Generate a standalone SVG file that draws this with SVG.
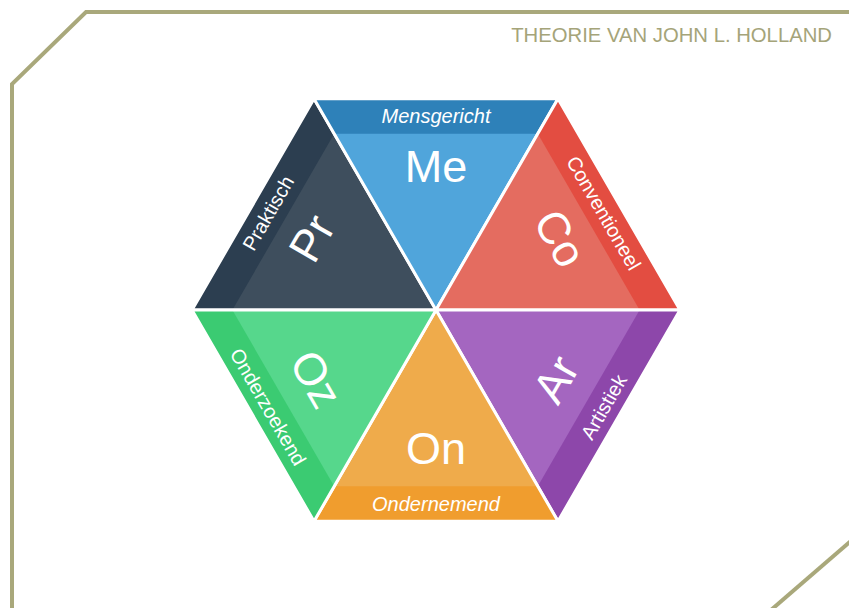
<svg xmlns="http://www.w3.org/2000/svg" width="849" height="608" viewBox="0 0 849 608">
<style>
.frame{fill:none;stroke:#a9a87b;stroke-width:4}
.title{font-family:"Liberation Sans",Arial,sans-serif;font-size:20.3px;fill:#a5a479}
.gap{fill:none;stroke:#ffffff;stroke-width:3;stroke-linejoin:miter}
.big{font-family:"Liberation Sans",Arial,sans-serif;font-size:45px;fill:#ffffff;text-anchor:middle}
.lab{font-family:"Liberation Sans",Arial,sans-serif;font-size:20px;fill:#ffffff;text-anchor:middle}
.it{font-style:italic}
</style>
<rect width="849" height="608" fill="#ffffff"/>
<g id="frame">
<polyline class="frame" points="12,610 12,84 86,12 851,12"/>
<polyline class="frame" points="771,610 851,541"/>
</g>
<text class="title" x="832" y="42" text-anchor="end">THEORIE VAN JOHN L. HOLLAND</text>

<g id="node-pr">
<polygon points="192,310 314,98.7 436,310" fill="#2c3e50"/>
<polygon points="232.4,310 334.2,133.7 436,310" fill="#3e4e5d"/>
<polygon class="gap" points="192,310 314,98.7 436,310"/>
<text class="lab" transform="translate(274.2,216.6) rotate(-60)">Praktisch</text>
<text class="big" transform="translate(314,239.6) rotate(-60)" y="13">Pr</text>
</g>
<g id="node-me">
<polygon points="314,98.7 558,98.7 436,310" fill="#2e81b9"/>
<polygon points="334.2,133.7 537.8,133.7 436,310" fill="#50a5db"/>
<polygon class="gap" points="314,98.7 558,98.7 436,310"/>
<text class="lab it" x="436" y="123.2">Mensgericht</text>
<text class="big" x="436" y="182">Me</text>
</g>
<g id="node-co">
<polygon points="558,98.7 680,310 436,310" fill="#e34d41"/>
<polygon points="537.8,133.7 639.6,310 436,310" fill="#e46c60"/>
<polygon class="gap" points="558,98.7 680,310 436,310"/>
<text class="lab" transform="translate(597.8,216.6) rotate(60)">Conventioneel</text>
<text class="big" transform="translate(558,239.6) rotate(60)" y="13">Co</text>
</g>
<g id="node-ar">
<polygon points="680,310 558,521.3 436,310" fill="#8d47aa"/>
<polygon points="639.6,310 537.8,486.3 436,310" fill="#a466c0"/>
<polygon class="gap" points="680,310 558,521.3 436,310"/>
<text class="lab" transform="translate(609.9,410.4) rotate(-60)">Artistiek</text>
<text class="big" transform="translate(558,380.4) rotate(-60)" y="13">Ar</text>
</g>
<g id="node-on">
<polygon points="558,521.3 314,521.3 436,310" fill="#f09d2e"/>
<polygon points="537.8,486.3 334.2,486.3 436,310" fill="#efab4b"/>
<polygon class="gap" points="558,521.3 314,521.3 436,310"/>
<text class="lab it" x="436" y="510.8">Ondernemend</text>
<text class="big" x="436" y="463.5">On</text>
</g>
<g id="node-oz">
<polygon points="314,521.3 192,310 436,310" fill="#3bcb72"/>
<polygon points="334.2,486.3 232.4,310 436,310" fill="#56d78c"/>
<polygon class="gap" points="314,521.3 192,310 436,310"/>
<text class="lab" transform="translate(262.1,410.4) rotate(60)">Onderzoekend</text>
<text class="big" transform="translate(314,380.4) rotate(60)" y="13">Oz</text>
</g>
<g id="connectors"></g>
</svg>
